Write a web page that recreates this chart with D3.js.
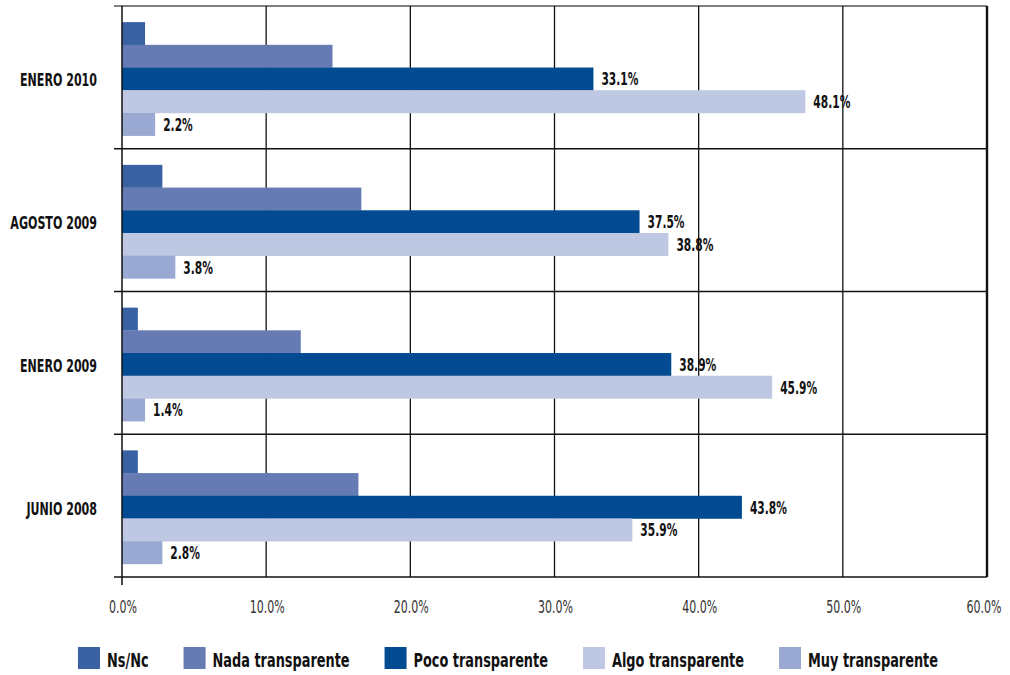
<!DOCTYPE html>
<html>
<head>
<meta charset="utf-8">
<script src="https://cdn.jsdelivr.net/npm/d3@7/dist/d3.min.js"></script>
<style>
  html, body { margin: 0; padding: 0; background: #fff; }
  svg { display: block; }
  text { font-family: "DejaVu Sans Condensed", "DejaVu Sans", sans-serif; font-stretch: condensed; }
</style>
</head>
<body>
<svg id="chart" width="1010" height="675"></svg>
<script>
// ---- data ----
const categories = ["ENERO 2010", "AGOSTO 2009", "ENERO 2009", "JUNIO 2008"];
const seriesNames = ["Ns/Nc", "Nada transparente", "Poco transparente", "Algo transparente", "Muy transparente"];
// bar lengths (percent), per category in the order above
const nsnc  = [1.6, 2.8, 1.1, 1.1];
const nada  = [14.6, 16.6, 12.4, 16.4];
const poco  = [32.7, 35.9, 38.1, 43.0];
const algo  = [47.4, 37.9, 45.1, 35.4];
const muy   = [2.3, 3.7, 1.6, 2.8];
// data label texts shown on the picture (null = no label)
const nsncLabels = [null, null, null, null];
const nadaLabels = [null, null, null, null];
const pocoLabels = ["33.1%", "37.5%", "38.9%", "43.8%"];
const algoLabels = ["48.1%", "38.8%", "45.9%", "35.9%"];
const muyLabels  = ["2.2%", "3.8%", "1.4%", "2.8%"];
const tickValues = [0, 10, 20, 30, 40, 50, 60];
const tickLabels = ["0.0%", "10.0%", "20.0%", "30.0%", "40.0%", "50.0%", "60.0%"];

const colors = ["#3a62a3", "#667bb4", "#024a91", "#bfc8e2", "#9aa9d1"];

const seriesValues = [nsnc, nada, poco, algo, muy];
const seriesLabels = [nsncLabels, nadaLabels, pocoLabels, algoLabels, muyLabels];

// ---- layout ----
const svg = d3.select("#chart");
const pLeft = 122, pRight = 987, pTop = 6, pBottom = 577;

const x = d3.scaleLinear().domain([0, 60]).range([pLeft, pRight]);
const y = d3.scaleBand().domain(categories).range([pTop, pBottom]).paddingInner(0).paddingOuter(0);
const barH = 22.7;
const groupH = barH * seriesNames.length;
const y1 = d3.scaleBand().domain(seriesNames).range([0, groupH]).padding(0);
const groupOffset = (y.bandwidth() - groupH) / 2 + 1.5;

// squeeze text horizontally to emulate the condensed typeface of the original
function condense(sel, factor) {
  sel.each(function () {
    const w = this.getComputedTextLength();
    d3.select(this).attr("textLength", w * factor).attr("lengthAdjust", "spacingAndGlyphs");
  });
}
function widthOf(str, size, weight) {
  const t = svg.append("text").attr("font-size", size).attr("font-weight", weight).text(str);
  const w = t.node().getComputedTextLength();
  t.remove();
  return w;
}

const gGrid = svg.append("g");
// horizontal category separators
const sepYs = categories.map(c => y(c)).concat([pBottom]);
gGrid.selectAll("line.h").data(sepYs).join("line")
  .attr("x1", pLeft - 8).attr("x2", pRight)
  .attr("y1", d => d).attr("y2", d => d)
  .attr("stroke", (d, i) => i === 0 ? "#555" : "#111").attr("stroke-width", 1.3);
// vertical gridlines
gGrid.selectAll("line.v").data(tickValues.slice(1)).join("line")
  .attr("x1", d => x(d)).attr("x2", d => x(d))
  .attr("y1", pTop).attr("y2", pBottom)
  .attr("stroke", "#111")
  .attr("stroke-width", d => d === 60 ? 2.4 : 1.3);

// bars
const gBars = svg.append("g");
seriesNames.forEach((s, si) => {
  gBars.selectAll("rect.s" + si).data(categories).join("rect")
    .attr("x", x(0))
    .attr("y", c => y(c) + groupOffset + y1(s))
    .attr("width", (c, ci) => x(seriesValues[si][ci]) - x(0))
    .attr("height", y1.bandwidth() + 0.3)
    .attr("fill", colors[si]);
});

// left axis line (drawn over bars)
svg.append("line").attr("x1", x(0)).attr("x2", x(0))
  .attr("y1", pTop).attr("y2", pBottom + 8)
  .attr("stroke", "#111").attr("stroke-width", 1.5);

// data labels
const labFactor = 37 / widthOf("33.1%", 18, "bold");
const gLab = svg.append("g");
seriesNames.forEach((s, si) => {
  categories.forEach((c, ci) => {
    const t = seriesLabels[si][ci];
    if (!t) return;
    gLab.append("text")
      .attr("x", x(seriesValues[si][ci]) + 8)
      .attr("y", y(c) + groupOffset + y1(s) + y1.bandwidth() / 2 + 6.5)
      .attr("font-size", 18).attr("font-weight", "bold").attr("fill", "#111")
      .text(t);
  });
});
condense(gLab.selectAll("text"), labFactor);

// category labels
const catFactor = 77 / widthOf("ENERO 2010", 18, "bold");
const catText = svg.append("g").selectAll("text").data(categories).join("text")
  .attr("x", 97)
  .attr("y", c => y(c) + groupOffset + groupH / 2 + 7.5)
  .attr("text-anchor", "end")
  .attr("font-size", 18).attr("font-weight", "bold").attr("fill", "#111")
  .text(c => c);
condense(catText, catFactor);

// x axis tick labels
const tickFactor = 35 / widthOf("10.0%", 18, "normal");
const tickText = svg.append("g").selectAll("text").data(tickValues).join("text")
  .attr("x", d => Math.min(x(d) + 1, 1010 - 26))
  .attr("y", 613)
  .attr("text-anchor", "middle")
  .attr("font-size", 18).attr("fill", "#333")
  .text((d, i) => tickLabels[i]);
condense(tickText, tickFactor);

// legend
const legFactor = 137 / widthOf("Nada transparente", 20, "bold");
const gLeg = svg.append("g");
const items = seriesNames.map((s, i) => {
  const g = gLeg.append("g");
  g.append("rect").attr("x", 0).attr("y", -20).attr("width", 22).attr("height", 22).attr("fill", colors[i]);
  const t = g.append("text").attr("x", 29).attr("y", 0)
    .attr("font-size", 20).attr("font-weight", "bold").attr("fill", "#111").text(s);
  const natural = t.node().getComputedTextLength();
  condense(t, legFactor);
  return { g, w: 29 + natural * legFactor };
});
const gap = 35;
const total = d3.sum(items, d => d.w) + gap * (items.length - 1);
let cx = 508 - total / 2;
items.forEach(it => { it.g.attr("transform", `translate(${cx},667)`); cx += it.w + gap; });
</script>
</body>
</html>
